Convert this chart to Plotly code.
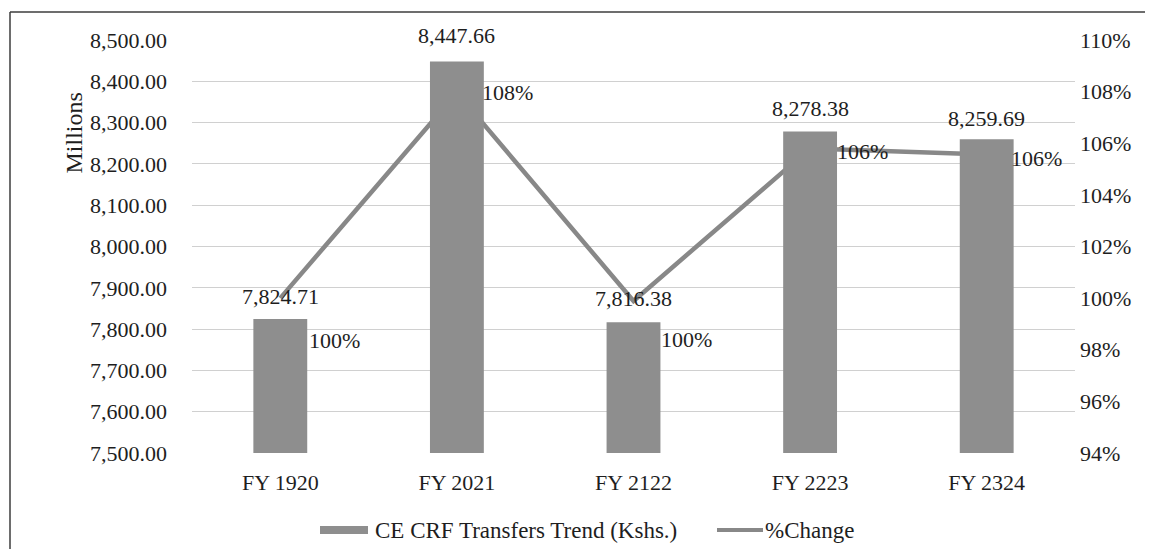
import plotly.graph_objects as go

categories = ["FY 1920", "FY 2021", "FY 2122", "FY 2223", "FY 2324"]
transfers = [7824.71, 8447.66, 7816.38, 8278.38, 8259.69]
pct_change = [100.0, 107.96, 99.89, 105.80, 105.56]
pct_labels = ["100%", "108%", "100%", "106%", "106%"]
bar_labels = ["7,824.71", "8,447.66", "7,816.38", "8,278.38", "8,259.69"]
bar_name = "CE CRF Transfers Trend (Kshs.)"
line_name = "%Change"

# label offsets (style only, pixels)
bar_label_yshift = [22, 26, 24, 23, 21]
pct_label_xshift = [27, 23, 25, 25, 22]
pct_label_yshift = [-42, 0, -39, -3, -4]

OFF = 8  # default body margin of the page
W, H = 1153 - 2 * OFF, 557 - 2 * OFF
L, T = 184, 32
pw, ph = 883, 413
R, B = W - L - pw, H - T - ph
FONT = "Liberation Serif"
TXT = "#1e1e1e"
BARC = "#8e8e8e"
LINEC = "#888888"


def px(xp):
    return (xp - OFF - L) / pw


def py(yp):
    return (T + ph + OFF - yp) / ph


fig = go.Figure()
# line on the primary (lower) subplot so that the bars cover it
fig.add_trace(go.Scatter(
    x=categories, y=pct_change, name=line_name, mode="lines",
    line=dict(color=LINEC, width=4.5), yaxis="y", showlegend=False,
))
fig.add_trace(go.Bar(
    x=categories, y=transfers, name=bar_name,
    marker=dict(color=BARC, line=dict(width=0)), yaxis="y2", showlegend=False,
))

ann = []
for c, v, t, ys in zip(categories, transfers, bar_labels, bar_label_yshift):
    ann.append(dict(x=c, y=v, xref="x", yref="y2", text=t, showarrow=False,
                    yanchor="middle", yshift=ys, font=dict(family=FONT, size=22, color=TXT)))
for c, v, t, xs, ys in zip(categories, pct_change, pct_labels, pct_label_xshift, pct_label_yshift):
    ann.append(dict(x=c, y=v, xref="x", yref="y", text=t, showarrow=False,
                    xanchor="left", yanchor="middle", xshift=xs, yshift=ys,
                    font=dict(family=FONT, size=22, color=TXT)))
ann.append(dict(x=px(59), y=py(91), xref="paper", yref="paper",
                text="Millions", textangle=-90, showarrow=False,
                font=dict(family=FONT, size=24, color=TXT)))
# legend (drawn manually to match the wide swatches)
ann.append(dict(x=px(373), y=py(530), xref="paper", yref="paper", text=bar_name,
                showarrow=False, xanchor="left", yanchor="middle",
                font=dict(family=FONT, size=23, color=TXT)))
ann.append(dict(x=px(763), y=py(530), xref="paper", yref="paper", text=line_name,
                showarrow=False, xanchor="left", yanchor="middle",
                font=dict(family=FONT, size=23, color=TXT)))

shapes = [
    dict(type="line", xref="paper", yref="paper",
         x0=px(10), x1=px(10), y0=py(549), y1=py(12),
         line=dict(color="#3c3c3c", width=1.5)),
    dict(type="line", xref="paper", yref="paper",
         x0=px(10), x1=px(1145), y0=py(12), y1=py(12),
         line=dict(color="#3c3c3c", width=1.5)),
    dict(type="rect", xref="paper", yref="paper",
         x0=px(320), x1=px(368), y0=py(534), y1=py(526),
         fillcolor=BARC, line=dict(width=0)),
    dict(type="line", xref="paper", yref="paper",
         x0=px(717), x1=px(763), y0=py(530), y1=py(530),
         line=dict(color=LINEC, width=4)),
]

fig.update_layout(
    width=W, height=H,
    margin=dict(l=L, r=R, t=T, b=B),
    paper_bgcolor="white", plot_bgcolor="white",
    font=dict(family=FONT, size=22, color=TXT),
    bargap=0.695,
    showlegend=False,
    xaxis=dict(showgrid=False, showline=False, ticks="", tickfont=dict(size=22),
               ticklabelstandoff=14),
    yaxis=dict(range=[94, 110], dtick=2, side="right",
               showgrid=False, zeroline=False, ticksuffix="%",
               tickfont=dict(size=22), ticklabelstandoff=4),
    yaxis2=dict(range=[7500, 8500], dtick=100, tickformat=",.2f",
                overlaying="y", side="left",
                showgrid=True, gridcolor="#d0d0d0", gridwidth=1, zeroline=False,
                tickfont=dict(size=22), ticklabelstandoff=24),
    annotations=ann, shapes=shapes,
)
fig.write_html("out.html")
